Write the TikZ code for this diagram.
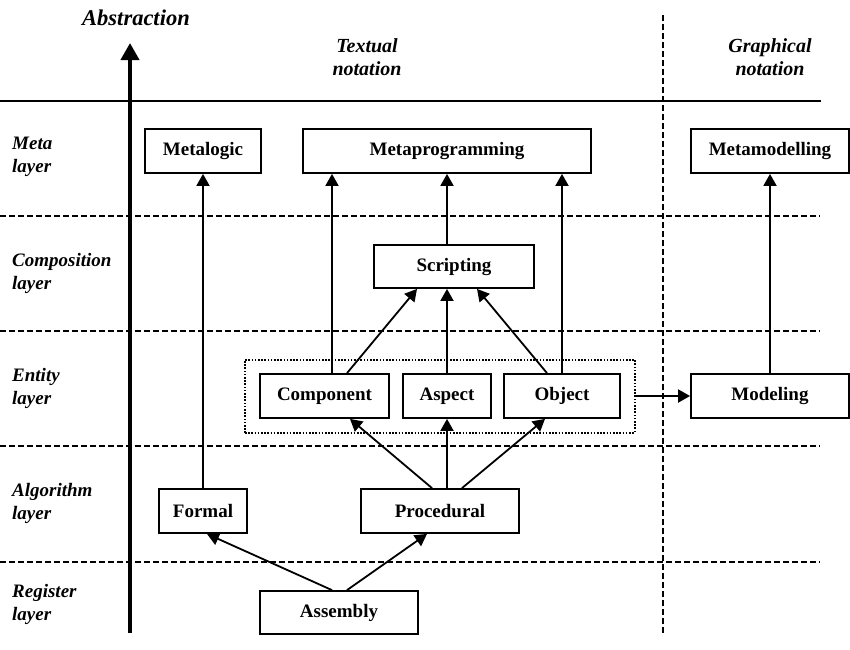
\documentclass[tikz,border=0pt]{standalone}
\usepackage{fontspec}
\setmainfont{Liberation Serif}
\usetikzlibrary{arrows.meta,calc}
\begin{document}
\begin{tikzpicture}[x=1pt,y=-1pt,
  box/.style={draw,line width=1.8pt,inner sep=0pt,minimum height=44pt,
    font=\fontsize{19}{23}\selectfont\bfseries},
  lab/.style={inner sep=0pt,align=left,anchor=west,
    font=\fontsize{19}{23}\selectfont\bfseries\itshape},
  head/.style={inner sep=0pt,align=center,
    font=\fontsize{20}{23}\selectfont\bfseries\itshape},
  arr/.style={line width=1.8pt,-{Triangle[length=12pt,width=13pt]}},
  sep/.style={line width=1.5pt,dash pattern=on 6pt off 3pt},
]
\useasboundingbox (0,0) rectangle (850,649);
% frame lines
\draw[line width=2.2pt] (0,101) -- (821,101);
\foreach \yy in {216,331,446,562} \draw[sep] (0,\yy) -- (820,\yy);
\draw[sep] (663,15) -- (663,633);
\draw[line width=4pt,-{Triangle[length=17pt,width=18pt]}] (130,633) -- (130,43);
% headings
\node[head,font=\fontsize{22.5}{26}\selectfont\bfseries\itshape] (abs) at (136,18) {Abstraction};
\node[head] (txt) at (367,57) {Textual\\notation};
\node[head] (gra) at (770,57) {Graphical\\notation};
% layer labels
\node[lab] (lmeta) at (12,157) {Meta\\layer};
\node[lab] (lcomp) at (12,273) {Composition\\layer};
\node[lab] (lent) at (12,388) {Entity\\layer};
\node[lab] (lalg) at (12,503) {Algorithm\\layer};
\node[lab] (lreg) at (12,604) {Register\\layer};
% boxes
\node[box,minimum width=116pt] (Metalogic) at (203,151) {Metalogic};
\node[box,minimum width=288pt] (Metaprogramming) at (447,151) {Metaprogramming};
\node[box,minimum width=158pt] (Metamodelling) at (770,151) {Metamodelling};
\node[box,minimum width=160pt,minimum height=43pt] (Scripting) at (454,266.5) {Scripting};
\node[draw,line width=2pt,dash pattern=on 1.6pt off 1.6pt,minimum width=390pt,minimum height=73pt,inner sep=0pt] (Group) at (440,396) {};
\node[box,minimum width=129pt] (Component) at (324.5,396) {Component};
\node[box,minimum width=88pt] (Aspect) at (447,396) {Aspect};
\node[box,minimum width=116pt] (Object) at (562,396) {Object};
\node[box,minimum width=158pt] (Modeling) at (770,396) {Modeling};
\node[box,minimum width=88pt] (Formal) at (203,511) {Formal};
\node[box,minimum width=158pt] (Procedural) at (440,511) {Procedural};
\node[box,minimum width=158pt,minimum height=43pt] (Assembly) at (339,612.5) {Assembly};
% connectors
\draw[arr] (Formal.north) -- (Metalogic.south);
\coordinate (c1) at ($(Component.north)+(7.5,0)$);
\draw[arr] (c1) -- (c1 |- Metaprogramming.south);
\draw[arr] (Object.north) -- (Object.north |- Metaprogramming.south);
\draw[arr] (Scripting.north -| Metaprogramming.south) -- (Metaprogramming.south);
\draw[arr] ($(Component.north)+(22.5,0)$) -- ($(Scripting.south)+(-37,0)$);
\draw[arr] (Aspect.north) -- (Scripting.south -| Aspect.north);
\draw[arr] ($(Object.north)+(-15,0)$) -- ($(Scripting.south)+(23,0)$);
\draw[arr] ($(Procedural.north)+(-8,0)$) -- ($(Component.south)+(25.5,0)$);
\draw[arr] (Procedural.north -| Aspect.south) -- (Aspect.south);
\draw[arr] ($(Procedural.north)+(22,0)$) -- ($(Object.south)+(-17,0)$);
\draw[arr] ($(Assembly.north)+(-7,0)$) -- ($(Formal.south)+(4,0)$);
\draw[arr] ($(Assembly.north)+(8,0)$) -- ($(Procedural.south)+(-13,0)$);
\draw[arr] (Group.east) -- (Modeling.west);
\draw[arr] (Modeling.north) -- (Metamodelling.south);
\end{tikzpicture}
\end{document}
